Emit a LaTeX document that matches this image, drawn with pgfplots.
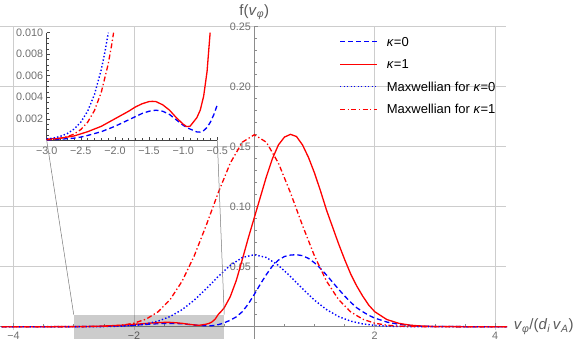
\documentclass[border=0pt]{standalone}
\usepackage{pgfplots}
\pgfplotsset{compat=1.18}
\usepackage{pgfplotstable}
\usepackage{fontspec}
\setmainfont{Liberation Sans}

\definecolor{axcol}{RGB}{140,140,140}
\definecolor{inaxcol}{RGB}{70,70,70}
\definecolor{tickcol}{RGB}{110,110,110}
\definecolor{gridcol}{RGB}{205,205,205}
\definecolor{labcol}{RGB}{90,90,90}
\definecolor{concol}{RGB}{120,120,120}

% kappa = 1
\pgfplotstableread{
v f
-4.2 0
-4 0
-3.5 0.00002
-3 0.0001
-2.8 0.0002
-2.6 0.0004
-2.4 0.0008
-2.2 0.0013
-2 0.002
-1.8 0.0027
-1.7 0.0031
-1.6 0.0034
-1.5 0.0036
-1.45 0.00362
-1.4 0.0036
-1.3 0.0033
-1.2 0.0028
-1.1 0.0021
-1 0.0015
-0.95 0.00128
-0.9 0.0013
-0.85 0.0017
-0.8 0.0021
-0.75 0.0028
-0.7 0.0041
-0.65 0.0064
-0.6 0.0102
-0.55 0.0128
-0.5 0.0158
-0.4 0.025
-0.3 0.0385
-0.2 0.056
-0.1 0.074
0 0.091
0.1 0.108
0.2 0.125
0.3 0.140
0.4 0.1515
0.5 0.158
0.6 0.1603
0.7 0.1585
0.8 0.1515
0.9 0.141
1 0.128
1.1 0.113
1.2 0.097
1.3 0.083
1.4 0.069
1.5 0.056
1.6 0.044
1.7 0.034
1.8 0.0255
1.9 0.018
2 0.0125
2.2 0.006
2.4 0.0028
2.6 0.0012
2.8 0.0005
3 0.0002
3.5 0.00002
4 0
4.2 0
}\kapone

% kappa = 0
\pgfplotstableread{
v f
-4.2 0
-4 0
-3.5 0.000005
-3 0.00003
-2.8 0.0001
-2.6 0.0002
-2.5 0.0003
-2.4 0.00045
-2.2 0.0008
-2 0.0013
-1.8 0.0019
-1.6 0.0025
-1.5 0.0027
-1.4 0.0028
-1.3 0.0027
-1.2 0.0024
-1.1 0.0019
-1 0.0014
-0.95 0.0012
-0.9 0.00105
-0.8 0.00078
-0.75 0.00076
-0.7 0.0009
-0.65 0.0012
-0.6 0.0017
-0.55 0.0024
-0.5 0.0033
-0.4 0.0054
-0.3 0.0082
-0.2 0.0125
-0.1 0.019
0 0.027
0.1 0.0355
0.2 0.0435
0.3 0.0505
0.4 0.0555
0.5 0.0585
0.6 0.0597
0.7 0.06
0.8 0.0592
0.9 0.0569
1 0.0532
1.1 0.0485
1.2 0.043
1.3 0.0371
1.4 0.0312
1.5 0.0256
1.6 0.0204
1.7 0.0158
1.8 0.0125
1.9 0.0095
2 0.0072
2.2 0.0039
2.4 0.002
2.6 0.001
2.8 0.0004
3 0.0002
3.5 0.00003
4 0
4.2 0
}\kapzero

% Maxwellian for kappa = 0
\pgfplotstableread{
v f
-4.2 0
-3 0.00001
-2.8 0.00002
-2.6 0.00007
-2.4 0.00019
-2.2 0.00047
-2 0.0011
-1.8 0.00235
-1.6 0.00464
-1.4 0.00845
-1.2 0.01422
-1 0.02207
-0.8 0.03164
-0.6 0.04186
-0.4 0.05113
-0.2 0.05765
0 0.06
0.2 0.05765
0.4 0.05113
0.6 0.04186
0.8 0.03164
1 0.02207
1.2 0.01422
1.4 0.00845
1.6 0.00464
1.8 0.00235
2 0.0011
2.2 0.00047
2.4 0.00019
2.6 0.00007
2.8 0.00002
3 0.00001
4.2 0
}\maxzero

% Maxwellian for kappa = 1
\pgfplotstableread{
v f
-4.2 0
-3 0.00002
-2.8 0.00006
-2.6 0.00019
-2.4 0.0005
-2.2 0.00126
-2 0.00293
-1.8 0.00627
-1.6 0.01237
-1.4 0.02254
-1.2 0.0379
-1 0.05886
-0.8 0.08437
-0.6 0.11163
-0.4 0.13634
-0.2 0.15373
0 0.16
0.2 0.15373
0.4 0.13634
0.6 0.11163
0.8 0.08437
1 0.05886
1.2 0.0379
1.4 0.02254
1.6 0.01237
1.8 0.00627
2 0.00293
2.2 0.00126
2.4 0.0005
2.6 0.00019
2.8 0.00006
3 0.00002
4.2 0
}\maxone

\tikzset{
  kzero/.style={color=blue, line width=1.3pt, dash pattern=on 5pt off 3pt},
  kone/.style={color=red, line width=1.3pt, solid},
  mzero/.style={color=blue, line width=1.4pt, dash pattern=on 1.4pt off 2.1pt},
  mone/.style={color=red, line width=1.3pt, dash pattern=on 5pt off 2.5pt on 1.3pt off 2.5pt},
  legtext/.style={anchor=base west, inner sep=0pt, font=\fontsize{13}{15}\selectfont, text=black},
}

\begin{document}
\begin{tikzpicture}
\path[use as bounding box] (0pt,0pt) rectangle (576pt,-346pt);

\begin{axis}[
  name=main,
  at={(0pt,-330.3pt)}, anchor=south west,
  scale only axis, width=505.68pt, height=303.6pt,
  xmin=-4.225, xmax=4.175, ymin=-0.003, ymax=0.25,
  axis lines=middle,
  axis line style={-, axcol, line width=0.6pt},
  clip=false,
  scaled ticks=false,
  xtick={-4,-2,2,4}, xticklabels={−4,−2,2,4},
  ytick={0.05,0.1,0.15,0.2,0.25}, yticklabels={0.05,0.10,0.15,0.20,0.25},
  minor xtick={-4,-3.5,...,4},
  minor ytick={0.01,0.02,...,0.25},
  tick align=inside,
  major tick length=4pt, minor tick length=2.5pt,
  every tick/.style={axcol, line width=0.6pt},
  xmajorgrids, ymajorgrids,
  major grid style={gridcol, line width=0.6pt},
  tick label style={font=\fontsize{10.8}{12}\selectfont, text=tickcol},
  xticklabel style={yshift=-1.4pt},
  xlabel={\textit{v}\textsubscript{\textit{φ}}/(\textit{d}\textsubscript{\textit{i}}\,\textit{v}\textsubscript{\textit{A}})},
  ylabel={f(\textit{v}\textsubscript{\textit{φ}})},
  xlabel style={at={(axis description cs:1,0.01186)}, anchor=west, inner sep=0pt, xshift=8pt, font=\fontsize{15}{17}\selectfont, text=labcol},
  ylabel style={at={(axis description cs:0.50298,1)}, anchor=south, inner sep=0pt, yshift=7pt, font=\fontsize{15}{17}\selectfont, text=labcol},
]
\fill[black, fill opacity=0.2] (axis cs:-3,-0.01) rectangle (axis cs:-0.5,0.01);
\draw[axcol, line width=0.6pt] (axis cs:0,-0.003) -- (axis cs:0,-0.0103);
\coordinate (boxTL) at (axis cs:-3,0.01);
\coordinate (boxTR) at (axis cs:-0.5,0.01);
\addplot[blue, kzero] table[x=v,y=f] {\kapzero};
\addplot[red, kone] table[x=v,y=f] {\kapone};
\addplot[blue, mzero] table[x=v,y=f] {\maxzero};
\addplot[red, mone] table[x=v,y=f] {\maxone};
% legend samples
\addplot[blue, kzero, forget plot] coordinates {(1.4236,0.2375) (2.0382,0.2375)};
\addplot[red, kone, forget plot] coordinates {(1.4236,0.21875) (2.0382,0.21875)};
\addplot[blue, mzero, forget plot] coordinates {(1.4236,0.2) (2.0382,0.2)};
\addplot[red, mone, forget plot] coordinates {(1.4236,0.18125) (2.0382,0.18125)};
\node[legtext] at (axis description cs:0.76471,0.93511) {\textit{κ}=0};
\node[legtext] at (axis description cs:0.76471,0.86100) {\textit{κ}=1};
\node[legtext] at (axis description cs:0.76471,0.78689) {Maxwellian for \textit{κ}=0};
\node[legtext] at (axis description cs:0.76471,0.71278) {Maxwellian for \textit{κ}=1};
\end{axis}

\begin{axis}[
  name=inset,
  at={(46.7pt,-140.3pt)}, anchor=south west,
  scale only axis, width=170.6pt, height=107.6pt,
  xmin=-3, xmax=-0.5, ymin=0, ymax=0.01,
  axis x line=bottom, axis y line=left,
  axis line style={-, inaxcol, line width=0.6pt},
  clip=false,
  scaled ticks=false,
  xtick={-3,-2.5,-2,-1.5,-1,-0.5}, xticklabels={−3.0,−2.5,−2.0,−1.5,−1.0,−0.5},
  ytick={0.002,0.004,0.006,0.008,0.01}, yticklabels={0.002,0.004,0.006,0.008,0.010},
  minor xtick={-3,-2.9,...,-0.5},
  minor ytick={0.0005,0.001,...,0.01},
  tick align=inside,
  major tick length=3.5pt, minor tick length=2pt,
  every tick/.style={inaxcol, line width=0.5pt},
  tick label style={font=\fontsize{10.8}{12}\selectfont, text=tickcol},
  xticklabel style={yshift=-3.4pt},
]
\addplot[blue, kzero] coordinates {(-3,0.00003) (-2.8,0.0001) (-2.6,0.0002) (-2.5,0.0003) (-2.4,0.00045) (-2.2,0.0008) (-2,0.0013) (-1.8,0.0019) (-1.6,0.0025) (-1.5,0.0027) (-1.4,0.0028) (-1.3,0.0027) (-1.2,0.0024) (-1.1,0.0019) (-1,0.0014) (-0.95,0.0012) (-0.9,0.00105) (-0.8,0.00078) (-0.75,0.00076) (-0.7,0.0009) (-0.65,0.0012) (-0.6,0.0017) (-0.55,0.0024) (-0.5,0.0033)};
\addplot[red, kone] coordinates {(-3,0.0001) (-2.8,0.0002) (-2.6,0.0004) (-2.4,0.0008) (-2.2,0.0013) (-2,0.002) (-1.8,0.0027) (-1.7,0.0031) (-1.6,0.0034) (-1.5,0.0036) (-1.45,0.00362) (-1.4,0.0036) (-1.3,0.0033) (-1.2,0.0028) (-1.1,0.0021) (-1,0.0015) (-0.95,0.00128) (-0.9,0.0013) (-0.85,0.0017) (-0.8,0.0021) (-0.75,0.0028) (-0.7,0.0041) (-0.65,0.0064) (-0.605,0.01)};
\addplot[blue, mzero] coordinates {(-3,0.00012) (-2.9,0.00021) (-2.8,0.00037) (-2.7,0.00062) (-2.6,0.00104) (-2.5,0.00169) (-2.4,0.00271) (-2.3,0.00426) (-2.2,0.00657) (-2.15,0.0081) (-2.1,0.0099) (-2.097,0.01)};
\addplot[red, mone] coordinates {(-3,0.00005) (-2.9,0.0001) (-2.8,0.00019) (-2.7,0.00033) (-2.6,0.00058) (-2.5,0.001) (-2.4,0.00168) (-2.3,0.00277) (-2.2,0.00447) (-2.1,0.00705) (-2.05,0.00879) (-2.02,0.01)};
\end{axis}

\draw[concol, line width=0.5pt] (inset.south west) -- (boxTL);
\draw[concol, line width=0.5pt] (inset.south east) -- (boxTR);
\end{tikzpicture}
\end{document}
